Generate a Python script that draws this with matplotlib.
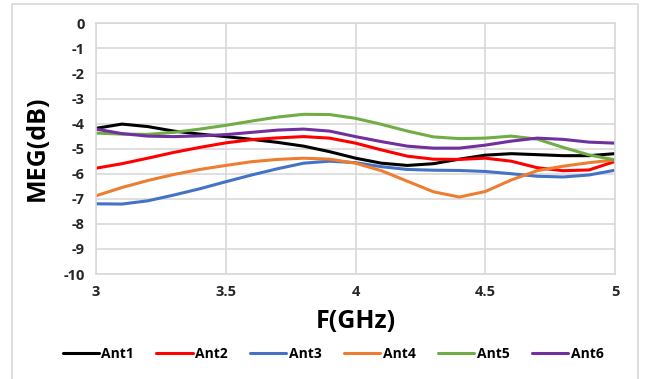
import matplotlib.pyplot as plt
from matplotlib.patches import Rectangle
import numpy as np

freq = [3.0, 3.1, 3.2, 3.3, 3.4, 3.5, 3.6, 3.7, 3.8, 3.9, 4.0,
        4.1, 4.2, 4.3, 4.4, 4.5, 4.6, 4.7, 4.8, 4.9, 5.0]

ant1 = [-4.19, -4.02, -4.12, -4.30, -4.42, -4.52, -4.63, -4.75, -4.90, -5.12, -5.38,
        -5.58, -5.67, -5.60, -5.42, -5.26, -5.20, -5.24, -5.28, -5.28, -5.20]
ant2 = [-5.78, -5.60, -5.38, -5.15, -4.95, -4.77, -4.64, -4.57, -4.52, -4.58, -4.78,
        -5.05, -5.30, -5.42, -5.43, -5.38, -5.50, -5.76, -5.88, -5.85, -5.51]
ant3 = [-7.20, -7.21, -7.08, -6.85, -6.60, -6.32, -6.05, -5.80, -5.58, -5.50, -5.56,
        -5.72, -5.83, -5.86, -5.87, -5.91, -6.00, -6.10, -6.13, -6.05, -5.86]
ant4 = [-6.88, -6.55, -6.27, -6.03, -5.83, -5.67, -5.52, -5.43, -5.38, -5.42, -5.58,
        -5.88, -6.30, -6.72, -6.93, -6.71, -6.25, -5.88, -5.70, -5.56, -5.45]
ant5 = [-4.38, -4.42, -4.43, -4.35, -4.22, -4.07, -3.90, -3.74, -3.63, -3.64, -3.79,
        -4.03, -4.30, -4.53, -4.60, -4.58, -4.50, -4.62, -4.95, -5.25, -5.45]
ant6 = [-4.22, -4.40, -4.50, -4.52, -4.49, -4.44, -4.35, -4.26, -4.22, -4.30, -4.52,
        -4.72, -4.90, -4.98, -4.98, -4.86, -4.70, -4.58, -4.63, -4.74, -4.78]

series = [ant1, ant2, ant3, ant4, ant5, ant6]
names = ['Ant1', 'Ant2', 'Ant3', 'Ant4', 'Ant5', 'Ant6']
colors = ['#000000', '#ff0000', '#4472c4', '#ed7d31', '#70ad47', '#7030a0']

plt.rcParams['font.family'] = ['Open Sans', 'DejaVu Sans']
plt.rcParams['font.weight'] = 'bold'
plt.rcParams['axes.unicode_minus'] = False

fig = plt.figure(figsize=(6.45, 3.79), dpi=100)
# light frame around the whole chart area
fig.patches.append(Rectangle((12 / 645, -0.1), 626 / 645, 1.1 - 4 / 379,
                             transform=fig.transFigure, fill=False,
                             edgecolor='#d9d9d9', linewidth=1.2))

ax = fig.add_axes([96 / 645, 1 - 274 / 379, 519 / 645, 250.7 / 379])

for y, name, c in zip(series, names, colors):
    ax.plot(freq, y, color=c, linewidth=2.2, label=name, solid_capstyle='round')

ax.set_xlim(3, 5)
ax.set_ylim(-10, 0)
ax.set_xticks([3, 3.5, 4, 4.5, 5])
ax.set_xticklabels(['3', '3.5', '4', '4.5', '5'])
ax.set_yticks(np.arange(-10, 1, 1))
ax.grid(True, color='#d9d9d9', linewidth=1.2)
ax.set_axisbelow(True)
for sp in ax.spines.values():
    sp.set_color('#d9d9d9')
    sp.set_linewidth(1.2)
ax.tick_params(length=0, labelsize=10.5, colors='#262626', pad=8)
for lab in ax.get_xticklabels() + ax.get_yticklabels():
    lab.set_fontweight('bold')

ax.set_xlabel('F(GHz)', fontsize=18, fontweight='bold', labelpad=7)
ax.set_ylabel('MEG(dB)', fontsize=18, fontweight='bold', labelpad=10)

leg = ax.legend(loc='upper center', bbox_to_anchor=(0.457, -0.24), ncol=6,
                frameon=False, fontsize=10, handlelength=2.6, handletextpad=0.2,
                columnspacing=1.6)
for t in leg.get_texts():
    t.set_fontweight('bold')

fig.savefig('out.png', dpi=100)
